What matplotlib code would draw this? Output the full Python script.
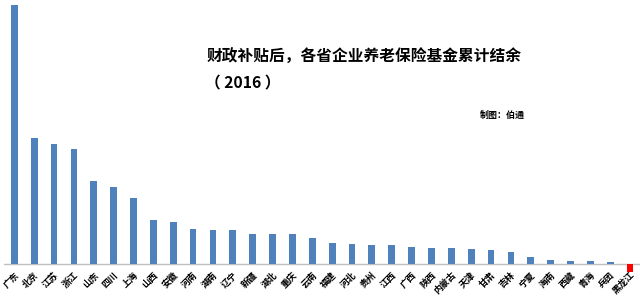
import matplotlib
matplotlib.use('Agg')
import matplotlib.pyplot as plt
import numpy as np

plt.rcParams['font.family'] = ['Noto Sans CJK SC', 'DejaVu Sans']

# Data: cumulative balance after subsidy (approx., 亿元)
provinces = ['广东', '北京', '江苏', '浙江', '山东', '四川', '上海', '山西', '安徽', '河南',
             '湖南', '辽宁', '新疆', '湖北', '重庆', '云南', '福建', '河北', '贵州', '江西',
             '广西', '陕西', '内蒙古', '天津', '甘肃', '吉林', '宁夏', '海南', '西藏', '青海',
             '兵团', '黑龙江']
balance = [7240, 3520, 3350, 3210, 2315, 2150, 1840, 1225, 1170, 970,
           945, 940, 830, 830, 830, 720, 580, 550, 515, 515,
           470, 440, 440, 410, 385, 330, 190, 105, 70, 70,
           40, -225]

title = '财政补贴后，各省企业养老保险基金累计结余'
subtitle = '（ 2016 ）'
credit = '制图：伯通'

fig = plt.figure(figsize=(6.4, 2.96), dpi=100)
ax = fig.add_axes([4 / 640, 1 - 274 / 296, 636 / 640, 272 / 296])

x = np.arange(len(provinces))
colors = ['#ff0000' if v < 0 else '#4f81bd' for v in balance]
ax.bar(x, balance, width=0.34, color=colors)
ax.axhline(0, color='#bfbfbf', lw=1.0, zorder=0)

ax.set_xlim(-0.52, 31.5)
ax.set_ylim(-288, 7328)
for s in ax.spines.values():
    s.set_visible(False)
ax.set_yticks([])
ax.set_xticks(x)
ax.set_xticklabels(provinces, rotation=45, ha='right', va='top',
                   rotation_mode='anchor', fontsize=6.5, fontweight='bold')
# labels sit just under the zero line, not under the axes box
ax.tick_params(axis='x', length=0, pad=-2.5)

fig.text(207 / 640, 1 - 57 / 296, title, fontsize=11.3, fontweight='bold',
         ha='left', va='center')
fig.text(205 / 640, 1 - 83 / 296, subtitle, fontsize=11.3, fontweight='bold',
         ha='left', va='center')
fig.text(525 / 640, 1 - 115 / 296, credit, fontsize=6.5, fontweight='bold',
         ha='right', va='center')

fig.savefig('out.png', dpi=100)
